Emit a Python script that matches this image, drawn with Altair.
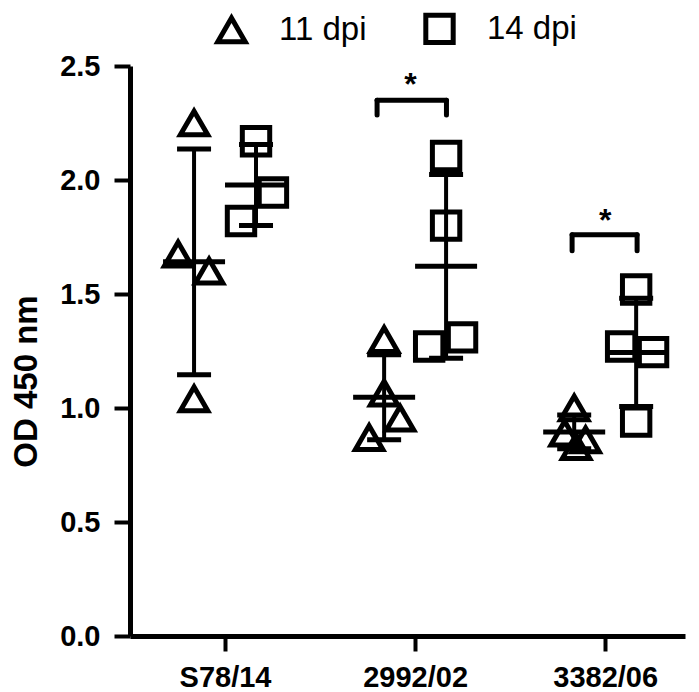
import json
import altair as alt
import pandas as pd

# ---------------- data ----------------
categories = ["S78/14", "2992/02", "3382/06"]
series = ["11 dpi", "14 dpi"]

values_11 = [[2.25, 1.675, 1.60, 1.04],
             [1.30, 1.065, 0.955, 0.87],
             [1.00, 0.89, 0.86, 0.83]]
values_14 = [[2.17, 1.945, 1.82],
             [2.105, 1.80, 1.27, 1.31],
             [1.52, 1.27, 1.245, 0.94]]
# horizontal scatter of points within a group (category units)
jitter_11 = [[0, -0.084, 0.079, 0],
             [0, 0, 0.084, -0.079],
             [0, -0.05, 0.06, 0.01]]
jitter_14 = [[0, 0.089, -0.079],
             [0, 0, -0.089, 0.084],
             [0, -0.079, 0.089, 0]]

group_offset = {"11 dpi": -0.163, "14 dpi": 0.163}

# significance annotations
sig_category = [2, 3]
sig_left = [1.80, 2.826]
sig_right = [2.165, 3.168]
sig_top = [2.35, 1.76]
sig_bottom = [2.285, 1.69]
sig_label_x = [1.975, 3.0]
sig_label_y = [2.375, 1.775]
sig_text = ["*", "*"]

FONT = "Liberation Sans"

rows = []
for ci, cat in enumerate(categories):
    for s, vals, jit in (("11 dpi", values_11[ci], jitter_11[ci]),
                         ("14 dpi", values_14[ci], jitter_14[ci])):
        for v, j in zip(vals, jit):
            rows.append({"category": cat, "series": s, "value": v,
                         "group": ci + 1 + group_offset[s],
                         "px": ci + 1 + group_offset[s] + j})
df = pd.DataFrame(rows)

brackets = pd.DataFrame({"left": sig_left, "right": sig_right,
                         "top": sig_top, "bottom": sig_bottom})
stars = pd.DataFrame({"x": sig_label_x, "y": sig_label_y, "t": sig_text})

xscale = alt.Scale(domain=[0.5, 3.42], nice=False, zero=False)
yscale = alt.Scale(domain=[0, 2.5], nice=False, zero=True)

labels_js = json.dumps(categories)
x_axis = alt.Axis(values=[1, 2, 3], labelExpr=f"{labels_js}[datum.value-1]",
                  title=None, grid=False, labelFont=FONT, labelFontSize=29,
                  labelFontWeight="bold", labelColor="black", tickSize=15,
                  tickWidth=4, tickColor="black", domainWidth=5,
                  domainColor="black", labelPadding=12)
y_axis = alt.Axis(values=[0, 0.5, 1.0, 1.5, 2.0, 2.5], format=".1f",
                  title="OD 450 nm", grid=False, labelFont=FONT,
                  labelFontSize=29, labelFontWeight="bold", labelColor="black",
                  tickSize=16, tickWidth=4, tickColor="black", domainWidth=5,
                  domainColor="black", labelPadding=14, titleFont=FONT,
                  titleFontSize=33, titleFontWeight="bold", titleColor="black",
                  titlePadding=16, titleY=315)

base = alt.Chart(df)

points = base.mark_point(filled=False, strokeWidth=5, size=750,
                         color="black", opacity=1).encode(
    x=alt.X("px:Q", scale=xscale, axis=x_axis),
    y=alt.Y("value:Q", scale=yscale, axis=y_axis),
    shape=alt.Shape("series:N",
                    scale=alt.Scale(domain=series,
                                    range=["triangle-up", "square"]),
                    legend=alt.Legend(title=None, orient="none",
                                      legendX=85, legendY=-54,
                                      direction="horizontal",
                                      symbolSize=750, symbolStrokeWidth=5,
                                      symbolStrokeColor="black",
                                      symbolFillColor="white",
                                      labelFont=FONT, labelFontSize=33,
                                      labelColor="black", labelOffset=31,
                                      columnPadding=48, padding=0)),
)

stats = base.transform_aggregate(
    mean="mean(value)", sd="stdev(value)", groupby=["group", "series"]
).transform_calculate(
    lo="datum.mean - datum.sd", hi="datum.mean + datum.sd"
)

vbar = stats.mark_rule(color="black", strokeWidth=4).encode(
    x=alt.X("group:Q", scale=xscale), y=alt.Y("lo:Q", scale=yscale), y2="hi:Q")
cap_hi = stats.mark_rule(color="black", strokeWidth=5, xOffset=-17,
                         x2Offset=17).encode(
    x=alt.X("group:Q", scale=xscale), x2="group:Q",
    y=alt.Y("hi:Q", scale=yscale))
cap_lo = stats.mark_rule(color="black", strokeWidth=5, xOffset=-17,
                         x2Offset=17).encode(
    x=alt.X("group:Q", scale=xscale), x2="group:Q",
    y=alt.Y("lo:Q", scale=yscale))
mean_line = stats.mark_rule(color="black", strokeWidth=5, xOffset=-31,
                            x2Offset=31).encode(
    x=alt.X("group:Q", scale=xscale), x2="group:Q",
    y=alt.Y("mean:Q", scale=yscale))

bchart = alt.Chart(brackets)
b_top = bchart.mark_rule(color="black", strokeWidth=5, strokeCap="round").encode(
    x=alt.X("left:Q", scale=xscale), x2="right:Q",
    y=alt.Y("top:Q", scale=yscale))
b_left = bchart.mark_rule(color="black", strokeWidth=5, strokeCap="round").encode(
    x=alt.X("left:Q", scale=xscale),
    y=alt.Y("top:Q", scale=yscale), y2="bottom:Q")
b_right = bchart.mark_rule(color="black", strokeWidth=5, strokeCap="round").encode(
    x=alt.X("right:Q", scale=xscale),
    y=alt.Y("top:Q", scale=yscale), y2="bottom:Q")
star_text = alt.Chart(stars).mark_text(font=FONT, fontSize=32,
                                       fontWeight="bold", color="black",
                                       baseline="alphabetic").encode(
    x=alt.X("x:Q", scale=xscale), y=alt.Y("y:Q", scale=yscale), text="t:N")

chart = alt.layer(vbar, cap_hi, cap_lo, mean_line, points,
                  b_top, b_left, b_right, star_text).properties(
    width=555, height=570,
    autosize=alt.AutoSizeParams(type="none"),
    padding={"left": 122, "top": 58, "right": 5, "bottom": 56},
    background="white",
).configure_view(stroke=None)

chart.save("out.html", embed_options={"renderer": "svg", "actions": False})
